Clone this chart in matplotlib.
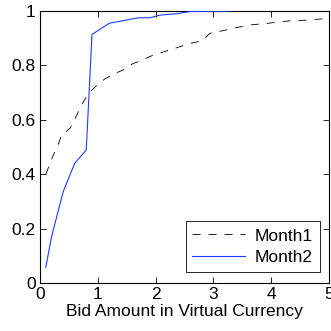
import matplotlib
matplotlib.use("Agg")
import matplotlib.pyplot as plt

# Cumulative share of bids by bid amount, two months
month1_x = [0.1, 0.23, 0.31, 0.375, 0.52, 0.6, 0.69, 0.77, 0.865, 1.0, 1.12, 1.3, 1.44,
            1.6, 1.73, 1.96, 2.28, 2.6, 2.8, 2.94, 3.26, 3.6, 3.95, 4.15, 4.33, 4.5, 4.95]
month1_y = [0.40, 0.47, 0.507, 0.544, 0.569, 0.60, 0.642, 0.673, 0.703, 0.73, 0.75, 0.771, 0.783,
            0.806, 0.816, 0.838, 0.859, 0.881, 0.89, 0.918, 0.932, 0.948, 0.955, 0.96, 0.964, 0.965, 0.972]

month2_x = [0.1, 0.2, 0.4, 0.6, 0.8, 0.9, 1.2, 1.5, 1.7, 1.9, 2.08, 2.36, 2.6, 3.3]
month2_y = [0.058, 0.17, 0.335, 0.44, 0.489, 0.914, 0.955, 0.967, 0.975, 0.975, 0.985, 0.99, 0.998, 1.0]

xticks = [0, 1, 2, 3, 4, 5]
yticks = [0, 0.2, 0.4, 0.6, 0.8, 1]
ytick_labels = ["0", "0.2", "0.4", "0.6", "0.8", "1"]

plt.rcParams["font.family"] = ["Liberation Sans", "DejaVu Sans"]
fs = 12.5

fig = plt.figure(figsize=(3.31, 3.31), dpi=100)
ax = fig.add_axes([40 / 331, 1 - 283 / 331, 289 / 331, 272 / 331])

ax.plot(month1_x, month1_y, color="black", linestyle=(0, (9.6, 9.6)), linewidth=0.6,
        label="Month1", zorder=3)
ax.plot(month2_x, month2_y, color="#1a3cff", linewidth=0.8, label="Month2", zorder=3)

ax.set_xlim(0, 5)
ax.set_ylim(0, 1)
ax.set_xticks(xticks)
ax.set_yticks(yticks)
ax.set_yticklabels(ytick_labels)
ax.tick_params(direction="in", top=True, right=True, length=4, width=0.6, labelsize=fs, pad=3)
for s in ax.spines.values():
    s.set_linewidth(0.8)

ax.set_xlabel("Bid Amount in Virtual Currency", fontsize=fs, labelpad=1)

leg = ax.legend(loc="lower right", bbox_to_anchor=(0.969, 0.0415), borderaxespad=0,
                fancybox=False, framealpha=1, edgecolor="black", handlelength=3.0,
                fontsize=fs, borderpad=0.4, labelspacing=0.35, handletextpad=0.6)
leg.get_frame().set_linewidth(0.6)
leg.set_zorder(4)

fig.savefig("out.png", dpi=100)
